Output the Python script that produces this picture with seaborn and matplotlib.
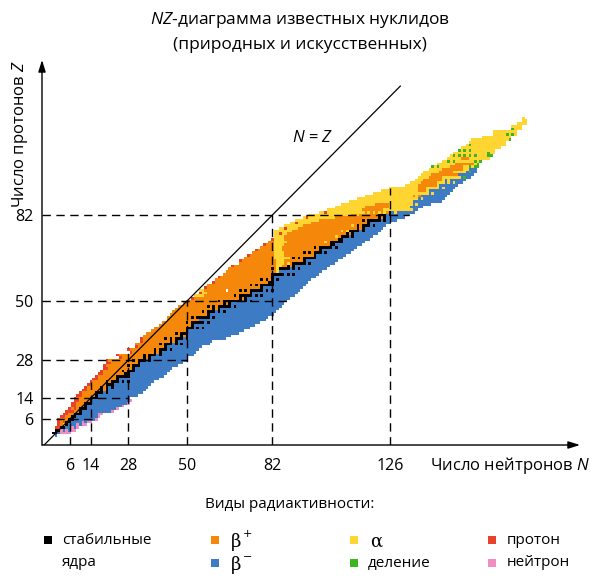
import numpy as np
import pandas as pd
import matplotlib
matplotlib.use("Agg")
import matplotlib.pyplot as plt
import seaborn as sns
from matplotlib.colors import ListedColormap
from matplotlib.patches import Rectangle

# ---- data (index = Z, 0..118) ----
n_lo = [1,
        0, 1, 1, 2, 2, 2, 3, 4, 5, 6,
        7, 7, 8, 8, 9, 10, 11, 12, 13, 14,
        15, 16, 17, 18, 19, 19, 20, 20, 25, 24,
        29, 28, 31, 31, 33, 33, 34, 35, 37, 38,
        40, 41, 43, 43, 44, 45, 46, 47, 49, 50,
        52, 53, 55, 55, 57, 58, 60, 61, 62, 64,
        65, 66, 67, 70, 70, 72, 73, 75, 76, 78,
        79, 81, 82, 83, 83, 83, 85, 87, 89, 91,
        94, 96, 100, 103, 106, 108, 111, 114, 117, 120,
        123, 126, 132, 134, 136, 137, 138, 139, 141, 142,
        144, 146, 148, 149, 150, 152, 153, 155, 156, 157,
        161, 165, 165, 172, 172, 174, 176, 176]

n_hi = [1,
        6, 8, 9, 12, 14, 16, 17, 18, 22, 24,
        26, 28, 29, 28, 31, 33, 34, 35, 36, 37,
        39, 41, 42, 43, 44, 46, 48, 50, 50, 52,
        53, 54, 55, 58, 59, 64, 66, 69, 71, 73,
        75, 77, 79, 80, 82, 83, 84, 85, 86, 87,
        88, 90, 91, 92, 93, 94, 95, 96, 98, 99,
        100, 102, 103, 105, 106, 108, 109, 111, 112, 113,
        115, 116, 118, 119, 121, 122, 123, 124, 126, 128,
        131, 133, 135, 136, 138, 141, 145, 146, 147, 148,
        149, 150, 151, 153, 154, 156, 157, 158, 158, 159,
        159, 160, 163, 164, 165, 165, 167, 169, 169, 171,
        171, 173, 173, 175, 175, 177, 177, 176]

stable = {
    1: [0, 1], 2: [1, 2], 3: [3, 4], 4: [5], 5: [5, 6], 6: [6, 7], 7: [7, 8],
    8: [8, 9, 10], 9: [10], 10: [10, 11, 12], 11: [12], 12: [12, 13, 14],
    13: [14], 14: [14, 15, 16], 15: [16], 16: [16, 17, 18, 20], 17: [18, 20],
    18: [18, 20, 22], 19: [20, 21, 22], 20: [20, 22, 23, 24, 26, 28], 21: [24],
    22: [24, 25, 26, 27, 28], 23: [27, 28], 24: [26, 28, 29, 30], 25: [30],
    26: [28, 30, 31, 32], 27: [32], 28: [30, 32, 33, 34, 36], 29: [34, 36],
    30: [34, 36, 37, 38, 40], 31: [38, 40], 32: [38, 40, 41, 42, 44], 33: [42],
    34: [40, 42, 43, 44, 46, 48], 35: [44, 46], 36: [42, 44, 46, 47, 48, 50],
    37: [48, 50], 38: [46, 48, 49, 50], 39: [50], 40: [50, 51, 52, 54, 56],
    41: [52], 42: [50, 52, 53, 54, 55, 56, 58], 44: [52, 54, 55, 56, 57, 58, 60],
    45: [58], 46: [56, 58, 59, 60, 62, 64], 47: [60, 62],
    48: [58, 60, 62, 63, 64, 65, 66, 68], 49: [64, 66],
    50: [62, 64, 65, 66, 67, 68, 69, 70, 72, 74], 51: [70, 72],
    52: [68, 70, 71, 72, 73, 74, 76, 78], 53: [74],
    54: [70, 72, 74, 75, 76, 77, 78, 80, 82], 55: [78],
    56: [74, 76, 78, 79, 80, 81, 82], 57: [81, 82], 58: [78, 80, 82, 84],
    59: [82], 60: [82, 83, 84, 85, 86, 88, 90], 62: [82, 85, 86, 87, 88, 90, 92],
    63: [88, 90], 64: [90, 91, 92, 93, 94, 96], 65: [94],
    66: [90, 92, 94, 95, 96, 97, 98], 67: [98], 68: [94, 96, 98, 99, 100, 102],
    69: [100], 70: [98, 100, 101, 102, 103, 104, 106], 71: [104, 105],
    72: [104, 105, 106, 107, 108], 73: [107, 108], 74: [108, 109, 110, 112],
    75: [110, 112], 76: [111, 112, 113, 114, 116], 77: [114, 116],
    78: [114, 116, 117, 118, 120], 79: [118], 80: [116, 118, 119, 120, 121, 122, 124],
    81: [122, 124], 82: [122, 123, 124, 126], 83: [126],
}

# first neutron number decaying by beta- (elements without stable isotopes)
beta_from = {0: 0, 43: 55, 61: 85, 84: 135, 85: 134, 86: 135, 87: 135, 88: 137,
             89: 138, 90: 141, 91: 141, 92: 145, 93: 145, 94: 147, 95: 147,
             96: 153, 97: 152, 98: 155, 99: 156}

# beta+ / EC windows among heavy alpha emitters
ec_ranges = {84: (116, 123), 85: (117, 125), 86: (121, 125), 89: (135, 137),
             91: (137, 139), 92: (137, 139), 93: (137, 143), 94: (138, 143),
             95: (139, 145), 96: (141, 145), 97: (142, 151), 98: (145, 149),
             99: (146, 153), 100: (149, 153), 101: (151, 157), 103: (153, 155)}

# alpha bands on the proton-rich side
alpha_ranges = {52: (53, 56), 53: (55, 57), 54: (55, 56), 60: (84, 84), 61: (84, 84),
                62: (84, 85), 63: (84, 85), 64: (84, 86), 65: (84, 86), 66: (83, 87),
                67: (83, 86), 68: (83, 86), 69: (83, 85), 70: (83, 85), 71: (83, 86),
                72: (83, 87), 73: (83, 86), 74: (83, 86), 75: (83, 87), 76: (83, 89),
                77: (85, 91), 78: (87, 93), 79: (89, 96), 80: (91, 99), 81: (94, 105),
                82: (96, 111), 83: (100, 116)}

alpha_cells = [(4, 4), (62, 84), (64, 88), (66, 88), (72, 102), (74, 106), (76, 108),
               (76, 110), (78, 112), (82, 114), (83, 118), (83, 120), (83, 122),
               (83, 124), (83, 128), (86, 136), (88, 138), (89, 136), (90, 142),
               (92, 146), (94, 148), (94, 150), (95, 148)]

proton_cells = [(3, 1), (3, 2), (4, 2), (5, 2), (5, 4), (6, 2), (7, 3), (7, 4), (8, 4),
                (8, 5), (9, 5), (9, 6), (9, 7), (10, 6), (10, 8), (11, 7), (11, 8),
                (12, 7), (12, 8), (13, 8), (13, 9), (14, 8), (15, 9), (15, 10),
                (16, 10), (17, 11), (17, 12), (18, 12), (19, 13), (19, 14), (20, 14),
                (21, 15), (21, 16), (22, 16), (23, 17), (23, 18), (24, 18), (25, 19),
                (25, 20), (26, 19), (27, 20), (27, 21), (28, 20), (29, 25), (30, 24),
                (31, 29), (32, 28), (33, 31), (35, 33), (36, 33), (51, 52), (53, 55),
                (55, 57), (57, 60), (59, 62), (63, 67), (65, 70), (67, 73), (69, 76),
                (71, 79), (73, 82), (75, 85), (77, 87), (79, 91), (81, 95), (83, 102)]

neutron_cells = [(1, 3), (1, 4), (1, 5), (1, 6), (2, 3), (2, 5), (2, 7), (2, 8), (3, 7),
                 (3, 9), (4, 9), (4, 11), (4, 12), (5, 11), (5, 13), (5, 14), (6, 16),
                 (7, 17), (8, 17), (8, 18), (9, 22), (10, 24), (11, 26), (12, 28),
                 (13, 29)]

fission_cells = [(96, 154), (98, 156), (100, 142), (100, 144), (100, 156), (100, 158),
                 (100, 159), (101, 159), (102, 148), (102, 150), (102, 158), (102, 160),
                 (104, 150), (104, 152), (104, 154), (104, 156), (104, 158), (104, 163),
                 (104, 164), (105, 163), (106, 152), (106, 154), (106, 156), (108, 156),
                 (110, 171), (112, 170), (112, 172), (114, 172)]

missing_cells = [(54, 65)]

magic_ticks = [6, 14, 28, 50, 82, 126]
z_ticks = [6, 14, 28, 50, 82]
h_line_ends = {6: 16, 14: 28, 28: 50, 50: 88, 82: 133}      # Z line -> last N
v_line_ends = {6: 6, 14: 20, 28: 33, 50: 50, 82: 82, 126: 92}  # N line -> last Z

mode_colors = ["#000000", "#F5870A", "#3D7BC4", "#FFD531", "#E8432A", "#3CB521", "#F08DC1"]
# 0 stable, 1 beta+, 2 beta-, 3 alpha, 4 proton, 5 fission, 6 neutron

# ---- build the N-Z grid ----
n_rows, n_cols = 119, 178
grid = np.full((n_rows, n_cols), np.nan)
for z in range(n_rows):
    st = stable.get(z, [])
    for n in range(n_lo[z], n_hi[z] + 1):
        if st:
            if n < min(st):
                c = 1
            elif n > max(st):
                c = 2
            else:
                c = 2 if n > np.mean(st) else 1
        elif z >= 84:
            c = 3
            if z in ec_ranges and ec_ranges[z][0] <= n <= ec_ranges[z][1]:
                c = 1
            if n >= beta_from.get(z, 999):
                c = 2
        else:
            c = 2 if n >= beta_from.get(z, 999) else 1
        grid[z, n] = c
    if z in alpha_ranges:
        a0, a1 = alpha_ranges[z]
        for n in range(max(a0, n_lo[z]), a1 + 1):
            grid[z, n] = 3

for z, n in alpha_cells:
    grid[z, n] = 3
for z, n in proton_cells:
    grid[z, n] = 4
for z, n in neutron_cells:
    grid[z, n] = 6
for z, n in fission_cells:
    grid[z, n] = 5
for z, ns in stable.items():
    for n in ns:
        grid[z, n] = 0
for z, n in missing_cells:
    grid[z, n] = np.nan

df = pd.DataFrame(grid, index=range(n_rows), columns=range(n_cols))

# ---- figure ----
plt.rcParams['font.family'] = ['Open Sans', 'DejaVu Sans']
plt.rcParams['mathtext.fontset'] = 'custom'
plt.rcParams['mathtext.rm'] = 'Open Sans'
plt.rcParams['mathtext.it'] = 'Open Sans:italic'

fig = plt.figure(figsize=(6.0, 5.86), dpi=100)
ax = fig.add_axes([42 / 600, 141 / 586, 538 / 600, 385 / 586])

sns.heatmap(df, mask=df.isna(), cmap=ListedColormap(mode_colors), vmin=-0.5, vmax=6.5,
            cbar=False, xticklabels=False, yticklabels=False, ax=ax)

x0, x1 = -3.8, 197.7
y0, y1 = -3.0, 140.1
ax.set_xlim(x0, x1)
ax.set_ylim(y0, y1)
for s in ax.spines.values():
    s.set_visible(False)

# magic-number dashed guides
for z, n_end in h_line_ends.items():
    ax.plot([x0, n_end + 0.5], [z + 0.5, z + 0.5], color="black", lw=1.0,
            dashes=(6, 4), zorder=3)
for n, z_end in v_line_ends.items():
    ax.plot([n + 0.5, n + 0.5], [y0, z_end + 0.5], color="black", lw=1.0,
            dashes=(6, 4), zorder=3)

# N = Z line
ax.plot([-3.0, 130.4], [-3.0, 130.4], color="black", lw=0.9, zorder=4)
ax.text(97.7, 111.1, r"$N$ = $Z$", fontsize=12, ha="center", va="center")

# axes with arrows
for tip in [(1.0, 0.0), (0.0, 1.0)]:
    ax.annotate("", xy=tip, xytext=(0.0, 0.0), xycoords="axes fraction",
                arrowprops=dict(arrowstyle="-|>,head_length=0.7,head_width=0.22",
                                color="black", lw=1.0, shrinkA=0, shrinkB=0),
                annotation_clip=False)

ax.set_xticks([n + 0.5 for n in magic_ticks])
ax.set_xticklabels([str(n) for n in magic_ticks], fontsize=11.5)
ax.set_yticks([z + 0.5 for z in z_ticks])
ax.set_yticklabels([str(z) for z in z_ticks], fontsize=11.5)
ax.tick_params(axis="x", length=0, pad=9)
ax.tick_params(axis="y", length=0, pad=6)
ax.set_xlabel("")
ax.set_ylabel("")

# titles and axis names
fig.text(0.5, 1 - 20 / 586, r"$\mathit{NZ}$-диаграмма известных нуклидов",
         fontsize=12.5, ha="center", va="center")
fig.text(0.5, 1 - 45 / 586, "(природных и искусственных)",
         fontsize=12.5, ha="center", va="center")
fig.text(20 / 600, 1 - 60 / 586, r"Число протонов $Z$", fontsize=12,
         rotation=90, ha="center", va="top")
fig.text(590 / 600, 1 - 465 / 586, r"Число нейтронов $N$", fontsize=12,
         ha="right", va="center")

# legend
fig.text(290 / 600, 1 - 505 / 586, "Виды радиактивности:", fontsize=11,
         ha="center", va="center")
legend_items = [
    (48, 540, 0, "стабильные", 62),
    (215, 540, 1, "β", 231),
    (215, 563, 2, "β", 231),
    (354, 540, 3, "α", 370),
    (354, 563, 5, "деление", 368),
    (492, 540, 4, "протон", 507),
    (492, 563, 6, "нейтрон", 507),
]
sq = 8
for cx, cy, code, label, tx in legend_items:
    fig.patches.append(Rectangle(((cx - sq / 2) / 600, 1 - (cy + sq / 2) / 586),
                                 sq / 600, sq / 586, transform=fig.transFigure,
                                 facecolor=mode_colors[code], edgecolor="none"))
    greek = label in ("β", "α")
    fig.text(tx / 600, 1 - (cy + (2 if greek else 0)) / 586, label,
             fontsize=13 if greek else 11, ha="left", va="center",
             family="DejaVu Serif" if greek else None)
fig.text(243 / 600, 1 - 534 / 586, "+", fontsize=8, ha="left", va="center",
         family="DejaVu Serif")
fig.text(243 / 600, 1 - 557 / 586, "−", fontsize=8, ha="left", va="center",
         family="DejaVu Serif")
fig.text(62 / 600, 1 - 562 / 586, "ядра", fontsize=11, ha="left", va="center")

fig.savefig("out.png", dpi=100)
